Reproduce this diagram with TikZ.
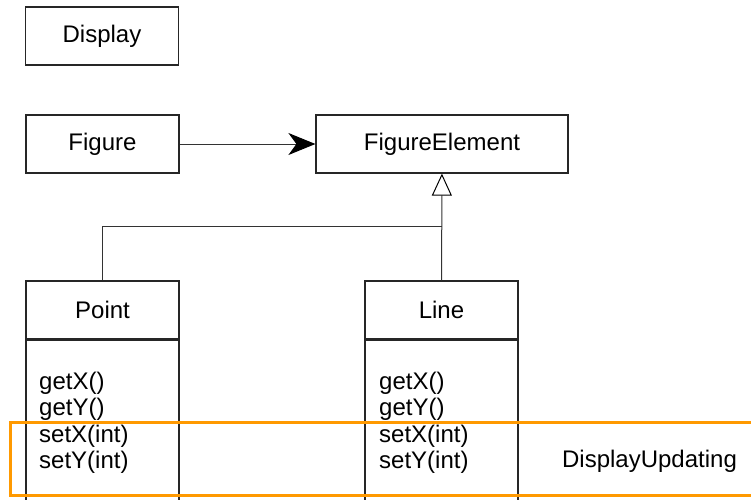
\documentclass[tikz,border=0pt]{standalone}
\usepackage{fontspec}
\setmainfont{Liberation Sans}
\usetikzlibrary{arrows.meta}
\definecolor{umlorange}{HTML}{FF9900}
\begin{document}
\begin{tikzpicture}[x=1pt,y=-1pt,
  box/.style={draw=black!85,line width=1.2pt,minimum width=153pt,minimum height=58pt,inner sep=0pt,font=\fontsize{24}{28}\selectfont},
  meth/.style={anchor=base west,inner sep=0pt,font=\fontsize{24}{28}\selectfont},
  conn/.style={draw=black!80,line width=1pt}]
\clip (0,0) rectangle (751,499);
\fill[white] (0,0) rectangle (751,499);
\node[box] (display) at (102,36) {Display};
\node[box] (figure) at (102.5,144) {Figure};
\node[box,minimum width=252pt] (felem) at (442,144) {FigureElement};
\node[box] (point) at (102.5,310) {Point};
\node[box] (line) at (441.5,310) {Line};
\node[box,minimum height=200pt,anchor=north] (pointbody) at (point.south) {};
\node[box,minimum height=200pt,anchor=north] (linebody) at (line.south) {};
\draw[conn,-{Stealth[length=27pt,width=22pt,inset=8pt,color=black]}] (figure) -- (felem);
\draw[conn,-{Triangle[open,length=22pt,width=20pt,fill=white,color=black]}] (line) -- (felem);
\path (line.north) ++(0,-54) coordinate (join);
\draw[conn] (point.north) |- (join);
\node[meth] (pgetx) at (39,389) {getX()};
\node[meth] (pgety) at (39,415.5) {getY()};
\node[meth] (psetx) at (39,442) {setX(int)};
\node[meth] (psety) at (39,468.5) {setY(int)};
\node[meth] (lgetx) at (379,389) {getX()};
\node[meth] (lgety) at (379,415.5) {getY()};
\node[meth] (lsetx) at (379,442) {setX(int)};
\node[meth] (lsety) at (379,468.5) {setY(int)};
\draw[draw=umlorange,line width=3pt] (10,422) rectangle (770,495);
\node[anchor=base,inner sep=0pt,font=\fontsize{24}{28}\selectfont] (dulabel) at (649.5,467) {DisplayUpdating};
\end{tikzpicture}
\end{document}
